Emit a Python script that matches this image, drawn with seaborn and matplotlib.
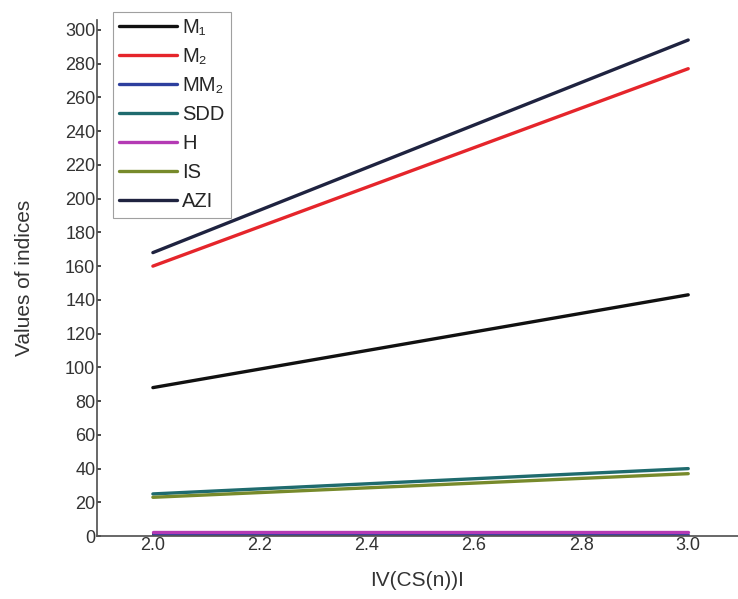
import seaborn as sns
import matplotlib.pyplot as plt
import pandas as pd

# |V(CS(n))| values
x_vals = [2.0, 3.0]
series_names = ['M\u2081', 'M\u2082', 'MM\u2082', 'SDD', 'H', 'IS', 'AZI']
m1 = [88, 143]
m2 = [160, 277]
mm2 = [0.5, 0.5]
sdd = [25, 40]
h = [2.5, 2.5]
is_ = [23, 37]
azi = [168, 294]
colors = ['#111111', '#e5252b', '#2d3f9e', '#1f6b6e', '#b43ab4', '#778a2b', '#1f2340']

all_vals = [m1, m2, mm2, sdd, h, is_, azi]
data = {'x': [], 'value': [], 'index': []}
for name, vals in zip(series_names, all_vals):
    for xv, v in zip(x_vals, vals):
        data['x'].append(xv)
        data['value'].append(v)
        data['index'].append(name)
df = pd.DataFrame(data)

sns.set_theme(style="ticks")
plt.rcParams['font.family'] = ['Liberation Sans', 'DejaVu Sans']

fig = plt.figure(figsize=(7.38, 5.99), dpi=100)
ax = fig.add_axes([0.131, 0.105, 0.869, 0.862])
sns.lineplot(data=df, x='x', y='value', hue='index', hue_order=series_names,
             palette=colors, linewidth=2.4, ax=ax)

ax.set_xlim(1.895, 3.093)
ax.set_ylim(0, 306)
ax.set_xticks([2.0, 2.2, 2.4, 2.6, 2.8, 3.0])
ax.set_xticklabels(['2.0', '2.2', '2.4', '2.6', '2.8', '3.0'])
ax.set_yticks(range(0, 301, 20))
ax.tick_params(direction='in', length=3, labelsize=13, colors='#333333', pad=1)
sns.despine(ax=ax)
for s in ['left', 'bottom']:
    ax.spines[s].set_color('#555555')
ax.set_xlabel('IV(CS(n))I', fontsize=15, color='#333333', labelpad=12)
ax.set_ylabel('Values of indices', fontsize=15, color='#333333', labelpad=22)

leg = ax.legend(loc='upper left', bbox_to_anchor=(0.025, 1.015), fontsize=14.5,
                frameon=True, fancybox=False, edgecolor='#888888',
                handlelength=2.9, handletextpad=0.25, labelspacing=0.5,
                borderpad=0.3, borderaxespad=0)
leg.get_frame().set_linewidth(0.8)

plt.savefig('out.png', dpi=100)
